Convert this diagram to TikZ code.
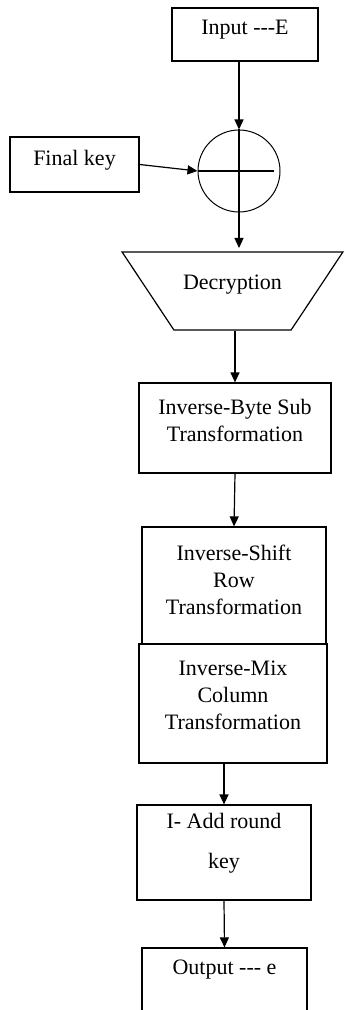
\documentclass[tikz,border=0pt]{standalone}
\usepackage{fontspec}
\setmainfont{Liberation Serif}
\usetikzlibrary{arrows.meta,shapes.geometric}

\tikzset{
    block/.style={
        draw,
        rectangle,
        line width=0.6pt,
        align=center,
        inner sep=2pt,
        font=\fontsize{11}{13.5}\selectfont,
        },
    arr/.style={
        line width=0.6pt,
        -{Triangle[length=5pt,width=4.5pt]},
        },
}

\begin{document}
\begin{tikzpicture}[x=0.5pt,y=-0.5pt]

\useasboundingbox (0,0) rectangle (344,1010);

% Input and final key
\node[block, minimum width=73pt, minimum height=26.5pt, text depth=7pt]
    (inp) at (245,34.5) {Input -{}-{}-E};
\node[block, minimum width=64.5pt, minimum height=27.5pt, text depth=7pt]
    (key) at (74.5,164.5) {Final key};

% XOR circle
\node[
    draw,
    circle,
    line width=0.5pt,
    minimum size=41pt,
    inner sep=0pt,
    ]
    (xr) at (239,171) {};
\coordinate (xout) at (239,248);

% Decryption
\node[
    draw,
    trapezium,
    shape border rotate=180,
    trapezium angle=42,
    trapezium stretches=true,
    minimum width=110.5pt,
    minimum height=39pt,
    line width=0.6pt,
    text depth=8.4pt,
    font=\fontsize{11}{13.5}\selectfont,
    ]
    (dec) at (232.5,291) {Decryption};

% Rounds
\node[block, minimum width=96pt, minimum height=45pt, text depth=8pt]
    (byte) at (235,428) {Inverse-Byte Sub\\Transformation};
\node[block, minimum width=92pt, minimum height=58.5pt, text depth=5.5pt]
    (shift) at (234,585.5) {Inverse-Shift\\Row\\Transformation};
\node[block, minimum width=94pt, minimum height=59.5pt, text depth=8.5pt]
    (mix) at (233,703.5) {Inverse-Mix\\Column\\Transformation};
\node[block, minimum width=87pt, minimum height=47.5pt, text depth=12pt]
    (add) at (224,852.5) {I- Add round\\[6.5pt]key};
\node[block, minimum width=82.5pt, minimum height=34pt, text depth=14.4pt]
    (out) at (224.5,982) {Output -{}-{}- e};

% Arrows
\draw[arr] (inp.south -| xr.north) -- (xr.north);
\draw[arr] (key.east) -- (xr.west);
\draw[arr] (xr.north) -- (xout);
\draw[line width=0.6pt] (xr.west) -- ([xshift=-3.5pt]xr.east);
\draw[arr] (byte.north |- dec.south) -- (byte.north);
\draw[arr] (byte.south) -- (shift.north);
\draw[arr] (add.north |- mix.south) -- (add.north);
\draw[arr] (add.south) -- (out.north);

\end{tikzpicture}
\end{document}
